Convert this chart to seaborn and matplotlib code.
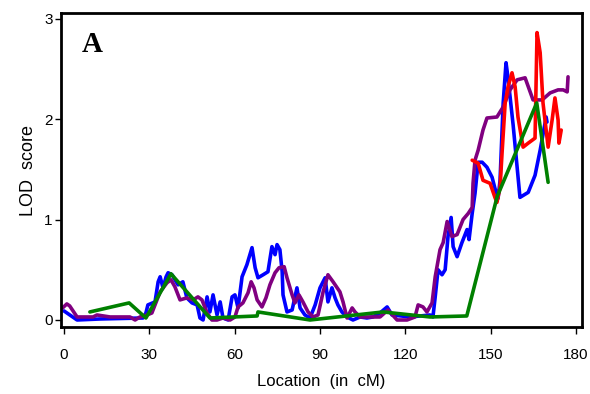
import matplotlib
matplotlib.use("Agg")
import matplotlib.pyplot as plt
import seaborn as sns
import pandas as pd


# Data (location in cM, LOD score)
blue_cm = [0.0, 4.6, 12.7, 27.8, 28.8, 29.5, 32.0, 33.1, 33.8, 34.8, 35.9, 36.6,
           38.0, 39.0, 40.1, 41.8, 43.2, 45.0, 46.8, 47.8, 48.9, 50.3, 51.3, 52.4,
           53.8, 54.9, 55.9, 57.7, 59.1, 60.1, 61.2, 62.6, 64.3, 66.1, 67.2, 68.2,
           70.0, 71.7, 73.1, 74.2, 74.9, 75.9, 76.7, 77.0, 78.4, 80.2, 81.9, 83.0,
           84.7, 86.5, 88.3, 90.0, 91.8, 92.8, 94.2, 95.3, 96.3, 97.7, 99.5, 101.6,
           104.1, 106.5, 108.6, 111.1, 113.6, 115.3, 121.7, 128.7, 129.7, 130.5,
           131.5, 132.9, 134.0, 135.0, 136.1, 136.8, 138.2, 139.9, 141.7, 142.4,
           143.5, 144.5, 145.6, 147.0, 148.7, 150.5, 151.5, 152.6, 153.3, 154.4,
           155.4, 156.1, 157.9, 160.3, 163.2, 165.6, 167.4, 169.5, 169.8]
blue_lod = [0.09, 0.00, 0.01, 0.02, 0.07, 0.15, 0.18, 0.38, 0.43, 0.32, 0.43, 0.47,
            0.45, 0.40, 0.35, 0.38, 0.22, 0.17, 0.15, 0.02, 0.00, 0.23, 0.08, 0.25,
            0.05, 0.18, 0.02, 0.00, 0.23, 0.25, 0.12, 0.43, 0.55, 0.72, 0.52, 0.42,
            0.45, 0.48, 0.73, 0.65, 0.75, 0.70, 0.48, 0.25, 0.08, 0.10, 0.32, 0.12,
            0.05, 0.02, 0.15, 0.32, 0.42, 0.18, 0.32, 0.22, 0.15, 0.08, 0.03, 0.00,
            0.03, 0.02, 0.03, 0.07, 0.13, 0.05, 0.03, 0.05, 0.03, 0.23,
            0.50, 0.45, 0.50, 0.83, 1.02, 0.73, 0.63, 0.77, 0.90, 0.80,
            1.06, 1.26, 1.57, 1.57, 1.52, 1.42, 1.31, 1.21, 1.39, 2.16,
            2.56, 2.41, 1.94, 1.22, 1.27, 1.44, 1.69, 2.02, 1.97]

purple_cm = [-0.5, 1.0, 2.0, 4.6, 10.2, 11.6, 16.2, 23.2, 25.0, 26.7, 29.2, 30.9,
             32.0, 33.8, 36.2, 37.6, 39.0, 40.8, 43.2, 45.4, 47.1, 48.5, 50.3, 52.0,
             53.8, 55.9, 58.4, 60.1, 61.2, 62.9, 64.7, 65.8, 66.8, 67.9, 69.6, 71.0,
             72.4, 74.2, 75.6, 77.4, 78.4, 80.2, 81.2, 82.6, 84.0, 85.8, 87.6, 89.3,
             91.1, 92.8, 94.6, 97.0, 98.1, 99.5, 101.3, 102.3, 104.1, 111.1, 113.9,
             117.1, 120.6, 123.4, 124.5, 126.2, 127.6, 129.4, 130.5, 132.2, 133.3,
             134.7, 136.4, 138.2, 140.3, 142.1, 143.5, 143.8, 144.5, 145.6, 147.3,
             148.7, 152.2, 154.4, 156.8, 159.3, 162.1, 164.9, 168.1, 170.9, 173.7,
             175.5, 176.9, 177.2]
purple_lod = [0.12, 0.16, 0.14, 0.03, 0.03, 0.05, 0.03, 0.03, 0.00, 0.03, 0.05, 0.07,
              0.15, 0.28, 0.37, 0.40, 0.33, 0.20, 0.22, 0.20, 0.23, 0.20, 0.07, 0.00,
              0.00, 0.02, 0.00, 0.03, 0.13, 0.17, 0.27, 0.38, 0.32, 0.20, 0.13, 0.22,
              0.35, 0.47, 0.52, 0.53, 0.42, 0.25, 0.17, 0.25, 0.18, 0.08, 0.03, 0.05,
              0.28, 0.45, 0.38, 0.28, 0.18, 0.02, 0.12, 0.08, 0.03, 0.03, 0.10,
              0.00, 0.00, 0.03, 0.15, 0.13, 0.08, 0.17, 0.43, 0.70, 0.77,
              0.98, 0.83, 0.85, 1.00, 1.06, 1.12, 1.36, 1.59, 1.69, 1.89,
              2.01, 2.02, 2.12, 2.29, 2.39, 2.41, 2.19, 2.19, 2.26, 2.29,
              2.29, 2.27, 2.42]

red_cm = [143.5, 145.6, 147.3, 149.8, 151.5, 152.2, 153.3, 154.0, 155.1, 156.1,
          157.5, 158.6, 159.6, 161.4, 163.2, 165.6, 166.3, 167.4, 168.4, 170.2,
          171.6, 172.6, 173.7, 174.0, 174.8]
red_lod = [1.59, 1.56, 1.39, 1.36, 1.22, 1.17, 1.32, 1.66, 2.16, 2.32,
           2.46, 2.32, 2.02, 1.72, 1.76, 1.81, 2.86, 2.66, 2.16, 1.72,
           1.99, 2.21, 1.99, 1.76, 1.89]

green_cm = [9.1, 22.9, 28.8, 37.6, 51.3, 67.9, 68.2, 86.5, 112.2, 128.7, 141.6,
            152.3, 166.2, 170.2]
green_lod = [0.08, 0.17, 0.02, 0.46, 0.02, 0.04, 0.08, 0.00, 0.08, 0.03, 0.04,
             1.23, 2.16, 1.37]

x_ticks = [0, 30, 60, 90, 120, 150, 180]
y_ticks = [0, 1, 2, 3]


# Long table for seaborn
frames = []
for name, xs, ys in [("blue", blue_cm, blue_lod),
                     ("purple", purple_cm, purple_lod),
                     ("red", red_cm, red_lod),
                     ("green", green_cm, green_lod)]:
    frames.append(pd.DataFrame({"cM": xs, "LOD": ys, "series": name}))
df = pd.concat(frames, ignore_index=True)

palette = {"blue": "#0000FF", "purple": "#800080",
           "red": "#FF0000", "green": "#008000"}


sns.set_theme(style="white")
plt.rcParams["font.family"] = ["Liberation Sans", "DejaVu Sans"]

fig = plt.figure(figsize=(5.9, 3.94), dpi=100)
ax = fig.add_axes([0.1034, 0.170, 0.883, 0.797])

sns.lineplot(
    data=df,
    x="cM",
    y="LOD",
    hue="series",
    hue_order=["blue", "purple", "red", "green"],
    palette=palette,
    estimator=None,
    sort=False,
    linewidth=2.6,
    legend=False,
    ax=ax
)

ax.set_xlim(-1.05, 182.1)
ax.set_ylim(-0.07, 3.055)
ax.set_xticks(x_ticks)
ax.set_yticks(y_ticks)
ax.set_xticklabels([str(t) for t in x_ticks])
ax.set_yticklabels([str(t) for t in y_ticks])

ax.tick_params(axis="x", direction="out", length=5, width=1, pad=10,
               labelsize=11, colors="black", bottom=True)
ax.tick_params(axis="y", direction="out", length=4, width=1, pad=2,
               labelsize=11, colors="black", left=True)

for spine in ax.spines.values():
    spine.set_color("black")
    spine.set_linewidth(2)

ax.set_xlabel("Location  (in  cM)", fontsize=12, labelpad=9, color="black")
ax.set_ylabel("LOD  score", fontsize=13, labelpad=5, color="black")

ax.text(0.040, 0.876, "A", transform=ax.transAxes,
        fontsize=21, fontweight="bold", family="Liberation Serif",
        color="black", va="baseline", ha="left")

fig.savefig("out.png", dpi=100)
